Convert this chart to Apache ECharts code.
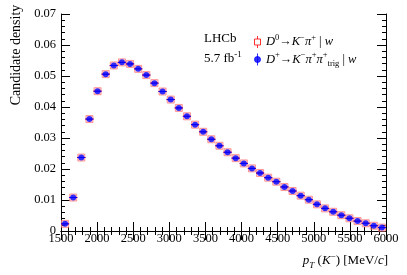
<!DOCTYPE html>
<html><head><meta charset="utf-8">
<script src="https://cdn.jsdelivr.net/npm/echarts@6/dist/echarts.min.js"></script>
<style>html,body{margin:0;padding:0;background:#fff}#c{width:407px;height:275px}</style>
</head><body><div id="c"></div>
<script>
// bin centres of p_T(K-) [MeV/c], 40 bins of 112.5 MeV from 1500 to 6000
const binCenters = [1556.25, 1668.75, 1781.25, 1893.75, 2006.25, 2118.75, 2231.25, 2343.75, 2456.25, 2568.75,
  2681.25, 2793.75, 2906.25, 3018.75, 3131.25, 3243.75, 3356.25, 3468.75, 3581.25, 3693.75,
  3806.25, 3918.75, 4031.25, 4143.75, 4256.25, 4368.75, 4481.25, 4593.75, 4706.25, 4818.75,
  4931.25, 5043.75, 5156.25, 5268.75, 5381.25, 5493.75, 5606.25, 5718.75, 5831.25, 5943.75];
const binHalfWidth = 56.25;
// D0 -> K- pi+ | w
const d0Values = [0.0023, 0.0108, 0.0237, 0.0361, 0.0451, 0.0506, 0.0534, 0.0544, 0.0539, 0.0523,
  0.0503, 0.0477, 0.0450, 0.0424, 0.0397, 0.0370, 0.0343, 0.0320, 0.0296, 0.0275,
  0.0254, 0.0235, 0.0218, 0.0202, 0.0187, 0.0172, 0.0159, 0.0142, 0.0129, 0.0114,
  0.0101, 0.0086, 0.0073, 0.0062, 0.0051, 0.0041, 0.0032, 0.0025, 0.0017, 0.0011];
// D+ -> K- pi+ pi+_trig | w
const dplusValues = [0.0023, 0.0108, 0.0237, 0.0361, 0.0451, 0.0506, 0.0534, 0.0544, 0.0539, 0.0523,
  0.0503, 0.0477, 0.0450, 0.0424, 0.0397, 0.0370, 0.0343, 0.0320, 0.0296, 0.0275,
  0.0254, 0.0235, 0.0218, 0.0202, 0.0187, 0.0172, 0.0159, 0.0142, 0.0129, 0.0114,
  0.0101, 0.0086, 0.0073, 0.0062, 0.0051, 0.0041, 0.0032, 0.0025, 0.0017, 0.0011];
const xRange = [1500, 6000];
const yRange = [0, 0.07];

const FONT = 'Liberation Serif';
const chart = echarts.init(document.getElementById('c'), null, {renderer: 'canvas'});

const d0Data = binCenters.map((x, i) => [x, d0Values[i]]);
const dpData = binCenters.map((x, i) => [x, dplusValues[i]]);

function errBar(color) {
  return function (params, api) {
    const x = api.value(0), y = api.value(1);
    const p1 = api.coord([x - binHalfWidth, y]);
    const p2 = api.coord([x + binHalfWidth, y]);
    return {type: 'line', shape: {x1: p1[0], y1: p1[1], x2: p2[0], y2: p2[1]},
      style: {stroke: color, lineWidth: 1}};
  };
}

const baseAxis = {
  axisLine: {show: true, lineStyle: {color: '#000', width: 1}},
  axisTick: {show: true, inside: true, length: 9, lineStyle: {color: '#000'}},
  minorTick: {show: true, splitNumber: 5, length: 4, lineStyle: {color: '#000'}},
  splitLine: {show: false}
};

function makeRich(size, subSize) {
  return {
    n: {fontFamily: FONT, fontSize: size, color: '#000', lineHeight: 18, verticalAlign: 'middle'},
    i: {fontFamily: FONT, fontSize: size, fontStyle: 'italic', color: '#000', lineHeight: 18, verticalAlign: 'middle'},
    sup: {fontFamily: FONT, fontSize: subSize, color: '#000', lineHeight: 10, verticalAlign: 'top'},
    sub: {fontFamily: FONT, fontSize: subSize, color: '#000', lineHeight: 10, verticalAlign: 'bottom'},
    subi: {fontFamily: FONT, fontSize: subSize, fontStyle: 'italic', color: '#000', lineHeight: 10, verticalAlign: 'bottom'}
  };
}
const rich = makeRich(13, 9);
const legendRich = makeRich(12.5, 8.5);

const legendLabels = {
  'D0': '{i|D}{sup|0}{n|→}{i|K}{sup|−}{i|π}{sup|+}{n| | }{i|w}',
  'Dplus': '{i|D}{sup|+}{n|→}{i|K}{sup|−}{i|π}{sup|+}{i|π}{sup|+}{sub|trig}{n| | }{i|w}'
};

chart.setOption({
  animation: false,
  backgroundColor: '#fff',
  grid: {left: 61, right: 21, top: 14, bottom: 44},
  xAxis: [
    Object.assign({}, baseAxis, {
      type: 'value', min: xRange[0], max: xRange[1], interval: 500, position: 'bottom',
      axisLabel: {fontFamily: FONT, fontSize: 12.5, color: '#000', margin: 1, formatter: v => String(v)}
    }),
    Object.assign({}, baseAxis, {
      type: 'value', min: xRange[0], max: xRange[1], interval: 500, position: 'top',
      axisLabel: {show: false}
    })
  ],
  yAxis: [
    Object.assign({}, baseAxis, {
      type: 'value', min: yRange[0], max: yRange[1], interval: 0.01, position: 'left',
      axisLabel: {fontFamily: FONT, fontSize: 12.5, color: '#000', margin: 5,
        formatter: v => v === 0 ? '0' : v.toFixed(2)}
    }),
    Object.assign({}, baseAxis, {
      type: 'value', min: yRange[0], max: yRange[1], interval: 0.01, position: 'right',
      axisLabel: {show: false}
    })
  ],
  legend: {
    orient: 'vertical', left: 249, top: 28, itemGap: 2, itemWidth: 7, itemHeight: 12,
    selectedMode: false,
    formatter: name => legendLabels[name],
    textStyle: {rich: legendRich, padding: [0, 0, 0, 0]},
    data: [
      {name: 'D0', icon: 'path://M0,3L6,3L6,9L0,9Z M3,0L3,3 M3,9L3,12',
        itemStyle: {color: 'rgba(255,255,255,0)', borderColor: '#ff0000', borderWidth: 1}},
      {name: 'Dplus', icon: 'path://M3,0L3,12 M0,6A3,3 0 1 1 6,6A3,3 0 1 1 0,6Z',
        itemStyle: {color: '#0000ff', borderColor: '#0000ff', borderWidth: 1}}
    ]
  },
  graphic: [
    {type: 'text', left: 204, top: 32, style: {text: 'LHCb', font: '13px "Liberation Serif"', fill: '#000'}},
    {type: 'text', left: 204, top: 50, style: {text: '{n|5.7 fb}{sup|-1}', rich: rich}},
    {type: 'text', x: 16, y: 55, rotation: Math.PI / 2,
      style: {text: 'Candidate density', font: '14px "Liberation Serif"', fill: '#000', align: 'center', verticalAlign: 'middle'}},
    {type: 'text', x: 388, y: 261,
      style: {text: '{i|p}{subi|T}{n| (}{i|K}{sup|−}{n|) [MeV/}{i|c}{n|]}', rich: rich, align: 'right', verticalAlign: 'middle'}}
  ],
  series: [
    {name: 'D0', type: 'scatter', data: d0Data, symbol: 'rect', symbolSize: 7, z: 2,
      itemStyle: {color: 'rgba(255,150,150,0.5)', borderColor: '#ff8080', borderWidth: 1}},
    {name: 'D0 err', type: 'custom', data: d0Data, renderItem: errBar('#ff0000'), z: 3,
      encode: {x: 0, y: 1}, silent: true},
    {name: 'Dplus err', type: 'custom', data: dpData, renderItem: errBar('#0000ff'), z: 4,
      encode: {x: 0, y: 1}, silent: true},
    {name: 'Dplus', type: 'scatter', data: dpData, symbol: 'circle', symbolSize: 6, z: 5,
      itemStyle: {color: '#0000ff'}}
  ]
});
</script></body></html>
